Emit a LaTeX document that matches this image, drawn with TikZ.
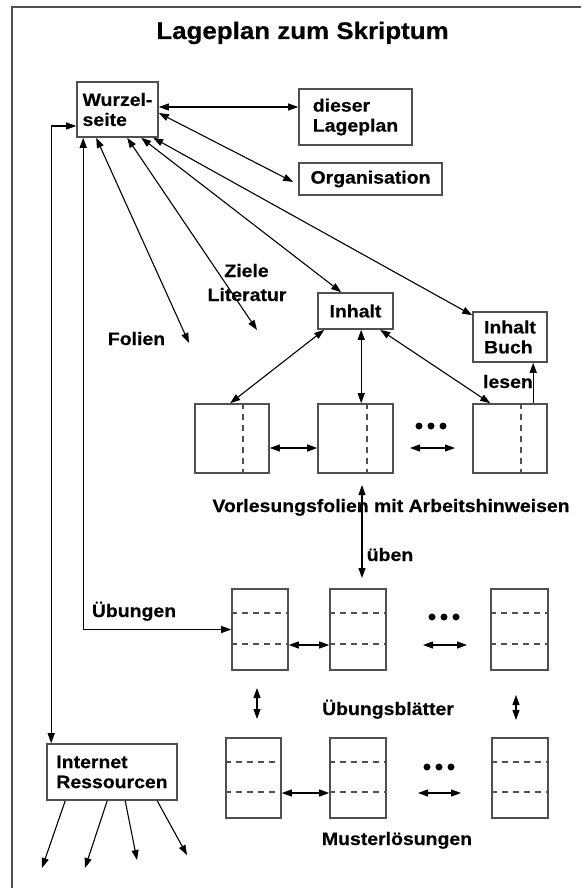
\documentclass[tikz,border=0pt]{standalone}
\usepackage{fontspec}
\setmainfont{Liberation Sans}[FakeStretch=1.08,BoldFeatures={FakeBold=0.4}]
\usetikzlibrary{arrows.meta}
\definecolor{boxgray}{HTML}{505050}
\newcommand\lblfont{\fontsize{18}{20}\selectfont\bfseries}
\newcommand\ttlfont{\fontsize{24}{28}\selectfont\bfseries}
\begin{document}
\begin{tikzpicture}[x=1pt,y=-1pt,
  box/.style={draw=boxgray,line width=1.6pt,inner sep=0pt,font=\lblfont,align=left},
  con/.style={line width=1.1pt,{Triangle[length=10pt,width=7pt]}-{Triangle[length=10pt,width=7pt]}},
  one/.style={line width=1.1pt,-{Triangle[length=10pt,width=7pt]}},
  dsh/.style={boxgray,line width=1.5pt,dash pattern=on 6pt off 5pt},
  lab/.style={font=\lblfont,inner sep=0pt,anchor=base},
  dot/.style={fill=black}]
\useasboundingbox (0,0) rectangle (581,888);
\clip (0,0) rectangle (581,888);
\draw[boxgray,line width=1.6pt] (12,7) rectangle (600,900);

% title
\node[font=\ttlfont,inner sep=0pt,anchor=base] (title) at (302.5,39) {Lageplan zum Skriptum};

% top boxes
\node[box,minimum width=81pt,minimum height=55pt] (wurzel) at (117.5,109.5) {Wurzel-\\seite};
\node[box,minimum width=113pt,minimum height=56pt] (dieser) at (355.5,117) {dieser\\Lageplan};
\node[box,minimum width=143pt,minimum height=32pt] (orga) at (370.5,179) {Organisation};
\node[box,minimum width=75pt,minimum height=36pt] (inhalt) at (355.5,311) {Inhalt};
\node[box,minimum width=74pt,minimum height=50pt] (buch) at (510,337) {Inhalt\\Buch};
\node[box,minimum width=130pt,minimum height=56pt] (internet) at (112,772) {Internet\\Ressourcen};

% slide boxes
\node[box,minimum width=74pt,minimum height=69pt] (f1) at (232,438.5) {};
\node[box,minimum width=75pt,minimum height=69pt] (f2) at (355.5,438.5) {};
\node[box,minimum width=74pt,minimum height=69pt] (f3) at (510,438.5) {};
\draw[dsh] ([xshift=49pt]f1.north west) -- ([xshift=49pt]f1.south west);
\draw[dsh] ([xshift=50pt]f2.north west) -- ([xshift=50pt]f2.south west);
\draw[dsh] ([xshift=49pt]f3.north west) -- ([xshift=49pt]f3.south west);

% exercise boxes
\node[box,minimum width=56pt,minimum height=81pt] (u1) at (260,629.5) {};
\node[box,minimum width=56pt,minimum height=81pt] (u2) at (358,629.5) {};
\node[box,minimum width=57pt,minimum height=81pt] (u3) at (519.5,629.5) {};
\foreach \b in {u1,u2,u3}{
  \draw[dsh] ([yshift=-25pt]\b.north west) -- ([yshift=-25pt]\b.north east);
  \draw[dsh] ([yshift=-56pt]\b.north west) -- ([yshift=-56pt]\b.north east);
}

% solution boxes
\node[box,minimum width=55pt,minimum height=80pt] (m1) at (253.5,778) {};
\node[box,minimum width=56pt,minimum height=80pt] (m2) at (358,778) {};
\node[box,minimum width=56pt,minimum height=80pt] (m3) at (520,778) {};
\foreach \b in {m1,m2,m3}{
  \draw[dsh] ([yshift=-25pt]\b.north west) -- ([yshift=-25pt]\b.north east);
  \draw[dsh] ([yshift=-55pt]\b.north west) -- ([yshift=-55pt]\b.north east);
}

% labels
\node[lab] (ziele) at (246.5,277) {Ziele};
\node[lab] (literatur) at (247,301) {Literatur};
\node[lab] (folien) at (136.5,345) {Folien};
\node[lab] (uebungen) at (134,617) {Übungen};
\node[lab,anchor=base east] (lesen) at (533,388) {lesen};
\node[lab] (vorl) at (391,512) {Vorlesungsfolien mit Arbeitshinweisen};
\node[lab] (ueben) at (390,561) {üben};
\node[lab] (ublatt) at (388,715) {Übungsblätter};
\node[lab] (muster) at (397,845) {Musterlösungen};

% free ends
\coordinate (folE) at (189,343);
\coordinate (litE) at (257,330);
\coordinate (d1a) at (410,448); \coordinate (d1b) at (455,448);
\coordinate (ubA) at (362,485); \coordinate (ubB) at (362,578);
\coordinate (d2a) at (423,645); \coordinate (d2b) at (467,645);
\coordinate (v1a) at (257,688); \coordinate (v1b) at (257,719);
\coordinate (v2a) at (516,695); \coordinate (v2b) at (516,720);
\coordinate (d3a) at (418,793); \coordinate (d3b) at (461,793);
\coordinate (i1) at (42,868); \coordinate (i2) at (85,868);
\coordinate (i3) at (137,860); \coordinate (i4) at (187,855);

% connectors from Wurzelseite
\draw[con] ([yshift=2.5pt]wurzel.east) -- ([yshift=10pt]dieser.west);
\draw[con] ([yshift=-3.5pt]wurzel.east) -- ([xshift=-5pt,yshift=-3pt]orga.west);
\draw[con] ([yshift=-16.5pt]wurzel.west) -| ([xshift=5pt]internet.north west);
\draw[con] ([xshift=7pt]wurzel.south west) |- (u1.west);
\draw[con] ([xshift=20pt]wurzel.south west) -- (folE);
\draw[con] ([xshift=51pt]wurzel.south west) -- (litE);
\draw[con] ([xshift=65pt]wurzel.south west) -- ([xshift=24pt]inhalt.north west);
\draw[con] ([xshift=77pt]wurzel.south west) -- ([yshift=-4pt]buch.north west);

% Inhalt to slides
\draw[con] ([xshift=7pt]inhalt.south west) -- ([xshift=36pt]f1.north west);
\draw[con] ([xshift=44pt]inhalt.south west) -- ([xshift=44pt]f2.north west);
\draw[con] ([xshift=63pt]inhalt.south west) -- ([xshift=18pt]f3.north west);
\draw[one] ([xshift=61pt]f3.north west) -- ([xshift=61pt]buch.south west);

% horizontal links
\draw[con] ([yshift=-9.5pt]f1.east) -- ([yshift=-9.5pt]f2.west);
\draw[con] (d1a) -- (d1b);
\draw[con] (ubA) -- (ubB);
\draw[con] ([yshift=-15.5pt]u1.east) -- ([yshift=-15.5pt]u2.west);
\draw[con] (d2a) -- (d2b);
\draw[con] (v1a) -- (v1b);
\draw[con] (v2a) -- (v2b);
\draw[con] ([yshift=-15pt]m1.east) -- ([yshift=-15pt]m2.west);
\draw[con] (d3a) -- (d3b);

% internet links
\draw[one] ([xshift=19pt]internet.south west) -- (i1);
\draw[one] ([xshift=61pt]internet.south west) -- (i2);
\draw[one] ([xshift=79pt]internet.south west) -- (i3);
\draw[one] ([xshift=111pt]internet.south west) -- (i4);

% ellipsis dots
\foreach \x in {-12,0,12}{
  \fill[dot] (431+\x,426) circle (3.5pt);
  \fill[dot] (444+\x,617) circle (3.5pt);
  \fill[dot] (439+\x,767) circle (3.5pt);
}
\end{tikzpicture}
\end{document}
